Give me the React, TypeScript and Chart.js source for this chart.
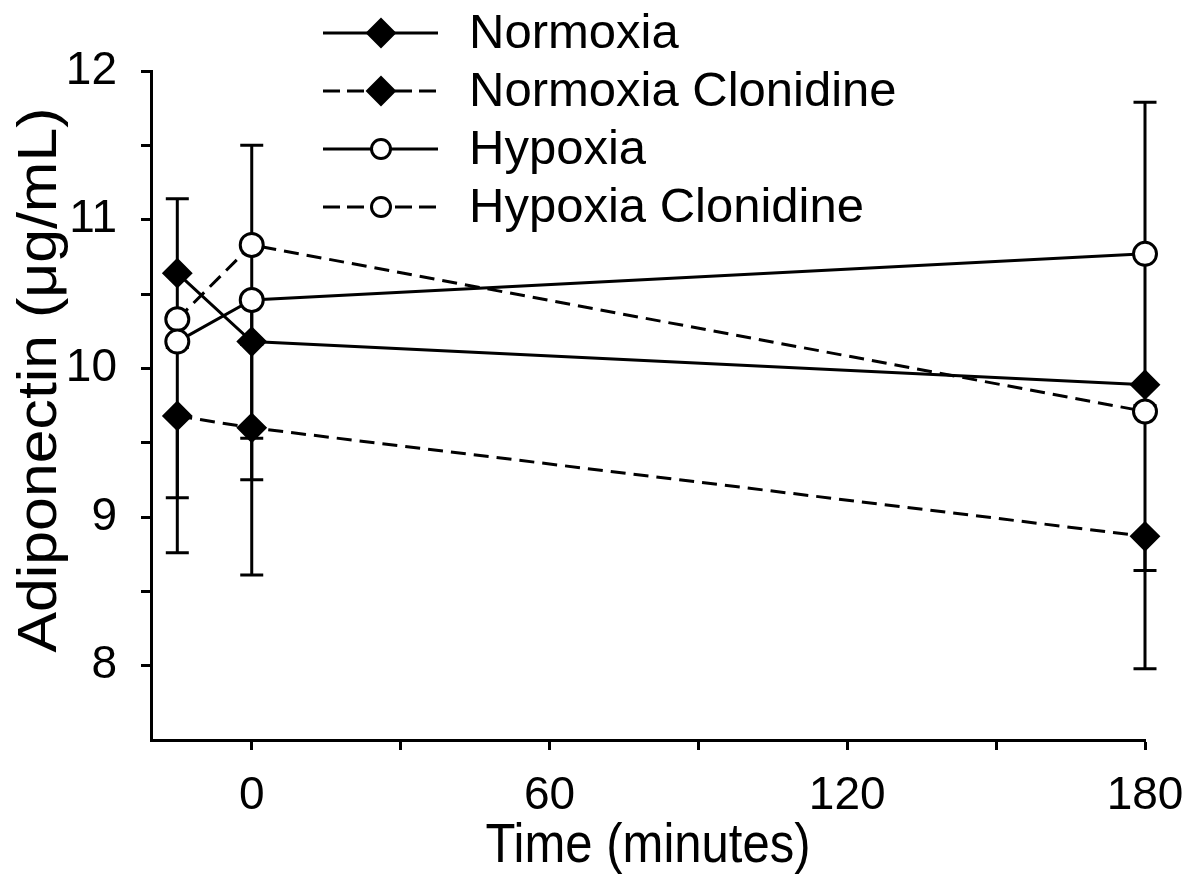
import { useEffect, useRef } from "react";
import { Chart, registerables } from "chart.js";

Chart.register(...registerables);

// ---------------- data ----------------
const timePoints = [-15, 0, 180];

const normoxia = [10.64, 10.18, 9.89];
const normoxiaClonidine = [9.68, 9.6, 8.87];
const hypoxia = [10.18, 10.46, 10.77];
const hypoxiaClonidine = [10.33, 10.83, 9.71];

// whisker end values (null = no whisker drawn on that side)
const normoxiaUpper = [11.14, null, null];
const normoxiaLower = [10.14, 9.25, null];
const normoxiaClonidineUpper = [null, null, null];
const normoxiaClonidineLower = [9.13, 9.53, 8.64];
const hypoxiaUpper = [null, null, 11.79];
const hypoxiaLower = [8.76, 8.61, 9.75];
const hypoxiaClonidineUpper = [null, 11.5, null];
const hypoxiaClonidineLower = [null, 10.16, 7.98];

const seriesNames = ["Normoxia", "Normoxia Clonidine", "Hypoxia", "Hypoxia Clonidine"];

const xTickValues = [0, 30, 60, 90, 120, 150, 180];
const xTickLabels = ["0", "", "60", "", "120", "", "180"];
const yTickValues = [8, 8.5, 9, 9.5, 10, 10.5, 11, 11.5, 12];
const yTickLabels = ["8", "", "9", "", "10", "", "11", "", "12"];

const xAxisTitle = "Time (minutes)";
const yAxisTitle = "Adiponectin (μg/mL)";

const FONT = '"Liberation Sans", Arial, Helvetica, sans-serif';

// ---------------- helpers ----------------
function drawMarker(ctx: CanvasRenderingContext2D, kind: string, x: number, y: number, r: number) {
  ctx.save();
  ctx.setLineDash([]);
  ctx.strokeStyle = "#000";
  if (kind === "diamond") {
    ctx.fillStyle = "#000";
    ctx.lineWidth = 2;
    ctx.beginPath();
    ctx.moveTo(x - r, y);
    ctx.lineTo(x, y - r);
    ctx.lineTo(x + r, y);
    ctx.lineTo(x, y + r);
    ctx.closePath();
    ctx.fill();
    ctx.stroke();
  } else {
    ctx.fillStyle = "#fff";
    ctx.lineWidth = 3;
    ctx.beginPath();
    ctx.arc(x, y, r, 0, Math.PI * 2);
    ctx.fill();
    ctx.stroke();
  }
  ctx.restore();
}

const errorBarPlugin = {
  id: "errorBars",
  beforeDatasetsDraw(chart: any) {
    const { ctx, scales } = chart;
    const xs = scales.x;
    const ys = scales.y;
    ctx.save();
    ctx.strokeStyle = "#000";
    ctx.lineWidth = 3;
    ctx.setLineDash([]);
    chart.data.datasets.forEach((ds: any) => {
      ds.data.forEach((pt: any, i: number) => {
        const px = xs.getPixelForValue(pt.x);
        const py = ys.getPixelForValue(pt.y);
        [ds.errUpper[i], ds.errLower[i]].forEach((v: number | null) => {
          if (v == null) return;
          const ey = ys.getPixelForValue(v);
          ctx.beginPath();
          ctx.moveTo(px, py);
          ctx.lineTo(px, ey);
          ctx.moveTo(px - 11.5, ey);
          ctx.lineTo(px + 11.5, ey);
          ctx.stroke();
        });
      });
    });
    ctx.restore();
  },
};

const legendAndTitlesPlugin = {
  id: "legendAndTitles",
  afterDraw(chart: any) {
    const { ctx, chartArea } = chart;
    ctx.save();
    // legend
    const kinds = ["diamond", "diamond", "circle", "circle"];
    const dashed = [false, true, false, true];
    seriesNames.forEach((name, i) => {
      const cy = 33 + i * 58;
      ctx.strokeStyle = "#000";
      ctx.lineWidth = 3;
      ctx.setLineDash(dashed[i] ? [17, 7] : []);
      ctx.beginPath();
      ctx.moveTo(323, cy);
      ctx.lineTo(438, cy);
      ctx.stroke();
      drawMarker(ctx, kinds[i], 381, cy, kinds[i] === "diamond" ? 14 : 9.5);
      ctx.setLineDash([]);
      ctx.fillStyle = "#000";
      ctx.font = `49px ${FONT}`;
      ctx.textAlign = "left";
      ctx.textBaseline = "middle";
      ctx.fillText(name, 469, cy + 1);
    });

    // x axis title
    ctx.font = `56px ${FONT}`;
    ctx.fillStyle = "#000";
    ctx.textAlign = "center";
    ctx.textBaseline = "alphabetic";
    const xw = ctx.measureText(xAxisTitle).width;
    ctx.save();
    ctx.translate((chartArea.left + chartArea.right) / 2, 862);
    ctx.scale(325 / xw, 1);
    ctx.fillText(xAxisTitle, 0, 0);
    ctx.restore();

    // y axis title
    const yw = ctx.measureText(yAxisTitle).width;
    ctx.save();
    ctx.translate(41, 380);
    ctx.rotate(-Math.PI / 2);
    ctx.scale(545 / yw, 1);
    ctx.textBaseline = "middle";
    ctx.fillText(yAxisTitle, 0, 0);
    ctx.restore();

    ctx.restore();
  },
};

// ---------------- component ----------------
export default function App() {
  const canvasRef = useRef<HTMLCanvasElement | null>(null);

  useEffect(() => {
    document.body.style.margin = "0";
    const canvas = canvasRef.current;
    if (!canvas) return;

    const mk = (
      label: string,
      values: number[],
      upper: (number | null)[],
      lower: (number | null)[],
      style: string,
      dash: boolean
    ): any => ({
      label,
      data: timePoints.map((t, i) => ({ x: t, y: values[i] })),
      errUpper: upper,
      errLower: lower,
      clip: false,
      borderColor: "#000",
      borderWidth: 3,
      borderDash: dash ? [15, 8] : [],
      tension: 0,
      fill: false,
      pointStyle: style,
      pointRadius: style === "rectRot" ? 14 : 11.5,
      pointHoverRadius: style === "rectRot" ? 14 : 11.5,
      pointBackgroundColor: style === "rectRot" ? "#000" : "#fff",
      pointBorderColor: "#000",
      pointBorderWidth: style === "rectRot" ? 2 : 3,
    });

    const chart = new Chart(canvas, {
      type: "line",
      data: {
        datasets: [
          mk(seriesNames[0], normoxia, normoxiaUpper, normoxiaLower, "rectRot", false),
          mk(seriesNames[1], normoxiaClonidine, normoxiaClonidineUpper, normoxiaClonidineLower, "rectRot", true),
          mk(seriesNames[2], hypoxia, hypoxiaUpper, hypoxiaLower, "circle", false),
          mk(seriesNames[3], hypoxiaClonidine, hypoxiaClonidineUpper, hypoxiaClonidineLower, "circle", true),
        ],
      },
      options: {
        responsive: false,
        animation: false,
        devicePixelRatio: 1,
        layout: { padding: { top: 71, right: 45, left: 0, bottom: 0 } },
        plugins: {
          legend: { display: false },
          tooltip: { enabled: false },
        },
        scales: {
          x: {
            type: "linear",
            min: -20.3,
            max: 180,
            afterFit: (scale: any) => {
              scale.height = 136;
              scale.paddingLeft = 0;
              scale.paddingRight = 0;
            },
            afterBuildTicks: (scale: any) => {
              scale.ticks = xTickValues.map((v) => ({ value: v }));
            },
            ticks: {
              autoSkip: false,
              maxRotation: 0,
              padding: 19,
              color: "#000",
              font: { family: FONT, size: 46 },
              callback: (value: any) => {
                const idx = xTickValues.indexOf(Number(value));
                return idx >= 0 ? xTickLabels[idx] : "";
              },
            },
            grid: {
              drawOnChartArea: false,
              drawTicks: true,
              tickLength: 10,
              tickWidth: 3,
              tickColor: "#000",
            },
            border: { display: true, width: 3, color: "#000" },
          },
          y: {
            type: "linear",
            min: 7.5,
            max: 12,
            afterFit: (scale: any) => {
              scale.width = 151;
              scale.paddingTop = 0;
              scale.paddingBottom = 0;
            },
            afterBuildTicks: (scale: any) => {
              scale.ticks = yTickValues.map((v) => ({ value: v }));
            },
            ticks: {
              autoSkip: false,
              padding: 24,
              color: "#000",
              font: { family: FONT, size: 46 },
              callback: (value: any) => {
                const idx = yTickValues.indexOf(Number(value));
                return idx >= 0 ? yTickLabels[idx] : "";
              },
            },
            grid: {
              drawOnChartArea: false,
              drawTicks: true,
              tickLength: 10,
              tickWidth: 3,
              tickColor: "#000",
            },
            border: { display: true, width: 3, color: "#000" },
          },
        },
      },
      plugins: [errorBarPlugin, legendAndTitlesPlugin],
    });

    return () => {
      chart.destroy();
    };
  }, []);

  return (
    <div style={{ width: 1190, height: 876, background: "#fff" }}>
      <canvas ref={canvasRef} width={1190} height={876} style={{ display: "block" }} />
    </div>
  );
}
